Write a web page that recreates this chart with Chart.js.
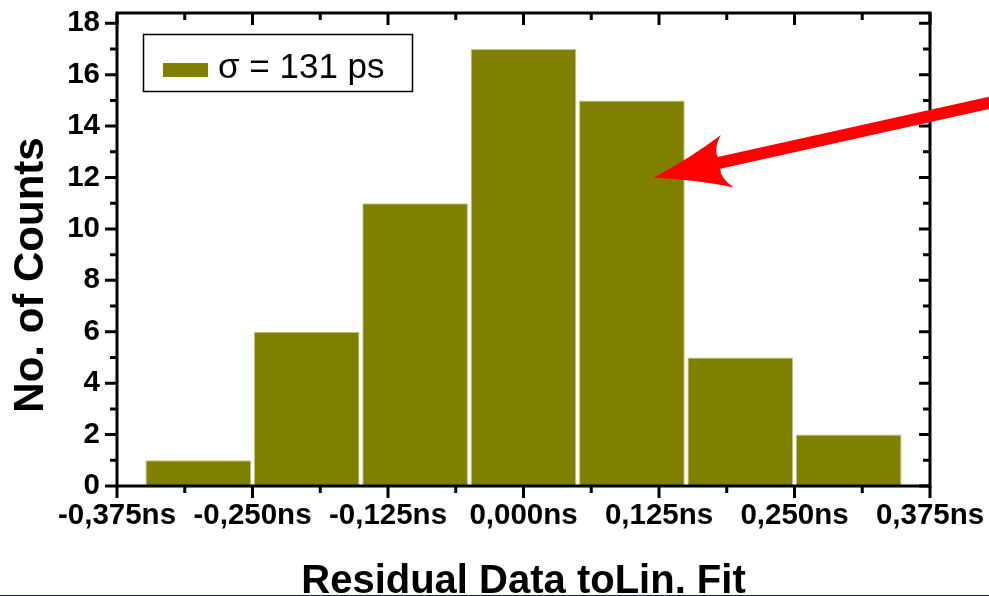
<!DOCTYPE html>
<html>
<head>
<meta charset="utf-8">
<title>Residual histogram</title>
<script src="https://cdn.jsdelivr.net/npm/chart.js@4.4.1/dist/chart.umd.min.js"></script>
<style>
    html, body { margin: 0; padding: 0; background: #ffffff; }
    canvas { display: block; }
</style>
</head>
<body>
<canvas id="residualChart" width="989" height="596"></canvas>
<script>
// histogram of residuals (bin centres in ns)
const binCenters = [-0.3, -0.2, -0.1, 0, 0.1, 0.2, 0.3];
const binCounts = [1, 6, 11, 17, 15, 5, 2];
const seriesLabel = "σ = 131 ps";

const xTickValues = [-0.375, -0.25, -0.125, 0, 0.125, 0.25, 0.375];
const xTickLabels = ["-0,375ns", "-0,250ns", "-0,125ns", "0,000ns", "0,125ns", "0,250ns", "0,375ns"];
const yTickValues = [0, 2, 4, 6, 8, 10, 12, 14, 16, 18];

const xTitle = "Residual Data toLin. Fit";
const yTitle = "No. of Counts";

// red pointer, in data units; the tail runs off past the right edge
const arrowTip = { x: 0.12, y: 12 };
const arrowTail = { x: 0.44, y: 15.0 };

const FONT = "'Liberation Sans', Arial, Helvetica, sans-serif";
const OLIVE = "#808000";

Chart.defaults.font.family = FONT;
Chart.defaults.color = "#000000";

// frame with mirrored ticks, axis titles, legend box and the arrow
const decorations = {

    id: "decorations",

    afterDraw(chart) {

        const ctx = chart.ctx;
        const area = chart.chartArea;
        const x = chart.scales.x;
        const y = chart.scales.y;

        ctx.save();
        ctx.strokeStyle = "#000000";
        ctx.lineCap = "butt";

        // ticks
        ctx.lineWidth = 3;

        const xMinor = [];
        for (let i = 0; i < xTickValues.length - 1; i++) {
            xMinor.push((xTickValues[i] + xTickValues[i + 1]) / 2);
        }

        const yMinor = [];
        for (let i = 0; i < yTickValues.length - 1; i++) {
            yMinor.push((yTickValues[i] + yTickValues[i + 1]) / 2);
        }

        ctx.beginPath();

        xTickValues.forEach(v => {
            const px = x.getPixelForValue(v);
            ctx.moveTo(px, area.bottom);
            ctx.lineTo(px, area.bottom + 12);
            ctx.moveTo(px, area.top);
            ctx.lineTo(px, area.top + 12);
        });

        xMinor.forEach(v => {
            const px = x.getPixelForValue(v);
            ctx.moveTo(px, area.bottom);
            ctx.lineTo(px, area.bottom + 7);
            ctx.moveTo(px, area.top);
            ctx.lineTo(px, area.top + 7);
        });

        yTickValues.forEach(v => {
            const py = y.getPixelForValue(v);
            ctx.moveTo(area.left, py);
            ctx.lineTo(area.left - 12, py);
            ctx.moveTo(area.right, py);
            ctx.lineTo(area.right - 11, py);
        });

        yMinor.forEach(v => {
            const py = y.getPixelForValue(v);
            ctx.moveTo(area.left, py);
            ctx.lineTo(area.left - 7, py);
            ctx.moveTo(area.right, py);
            ctx.lineTo(area.right - 7, py);
        });

        ctx.stroke();

        // frame
        ctx.lineWidth = 3;
        ctx.strokeRect(area.left, area.top, area.right - area.left, area.bottom - area.top);

        // axis titles
        ctx.fillStyle = "#000000";
        ctx.font = "bold 40px " + FONT;
        ctx.textAlign = "center";
        ctx.textBaseline = "alphabetic";
        ctx.fillText(xTitle, (area.left + area.right) / 2, 593);

        ctx.save();
        ctx.translate(43, 275);
        ctx.rotate(-Math.PI / 2);
        ctx.font = "bold 42px " + FONT;
        ctx.fillText(yTitle, 0, 0);
        ctx.restore();

        // legend
        const ds = chart.data.datasets[0];
        ctx.lineWidth = 1.5;
        ctx.strokeRect(143.5, 34.5, 269, 57);
        ctx.fillStyle = ds.backgroundColor;
        ctx.fillRect(163, 63, 45, 14);
        ctx.fillStyle = "#000000";
        ctx.font = "35px " + FONT;
        ctx.textAlign = "left";
        ctx.fillText(ds.label, 218, 77.5);

        drawArrow(ctx, x, y);

        // thin rule along the bottom edge
        ctx.fillStyle = "#1a1a6e";
        ctx.fillRect(0, chart.height - 1, chart.width, 1);

        ctx.restore();

    }

};

function drawArrow(ctx, x, y) {

    const tx = x.getPixelForValue(arrowTip.x);
    const ty = y.getPixelForValue(arrowTip.y);
    const ex = x.getPixelForValue(arrowTail.x);
    const ey = y.getPixelForValue(arrowTail.y);

    const len = Math.hypot(ex - tx, ey - ty);
    const ux = (ex - tx) / len;
    const uy = (ey - ty) / len;
    const nx = -uy;
    const ny = ux;

    // local (along, across) -> canvas
    const p = (a, b) => [tx + ux * a + nx * b, ty + uy * a + ny * b];

    ctx.fillStyle = "#ff0000";
    ctx.beginPath();
    ctx.moveTo(...p(0, 0));
    ctx.quadraticCurveTo(...p(40, -11), ...p(75, -27));
    ctx.quadraticCurveTo(...p(65, -16), ...p(67, -6));
    ctx.lineTo(...p(len, -6));
    ctx.lineTo(...p(len, 6));
    ctx.lineTo(...p(67, 6));
    ctx.quadraticCurveTo(...p(65, 16), ...p(76, 27));
    ctx.quadraticCurveTo(...p(40, 11), ...p(0, 0));
    ctx.closePath();
    ctx.fill();

}

const chart = new Chart(
    document.getElementById("residualChart").getContext("2d"),
    {
        type: "bar",
        data: {
            datasets: [
                {
                    label: seriesLabel,
                    data: binCenters.map((c, i) => ({ x: c, y: binCounts[i] })),
                    backgroundColor: OLIVE,
                    borderColor: "#c4c48c",
                    borderWidth: 1,
                    borderSkipped: "bottom",
                    categoryPercentage: 1,
                    barPercentage: 0.975
                }
            ]
        },
        options: {
            responsive: false,
            animation: false,
            events: [],
            layout: {
                padding: { top: 13, right: 59, left: 0, bottom: 0 }
            },
            plugins: {
                legend: { display: false },
                tooltip: { enabled: false }
            },
            scales: {
                x: {
                    type: "linear",
                    min: -0.375,
                    max: 0.375,
                    offset: false,
                    grid: { display: false, drawTicks: false },
                    border: { display: false },
                    afterBuildTicks: scale => {
                        scale.ticks = xTickValues.map(v => ({ value: v }));
                    },
                    afterFit: scale => {
                        scale.height = 110;
                        scale.paddingLeft = 0;
                        scale.paddingRight = 0;
                    },
                    ticks: {
                        autoSkip: false,
                        maxRotation: 0,
                        padding: 12,
                        font: { size: 29.5, weight: "bold" },
                        color: "#000000",
                        callback: (value, index) => xTickLabels[index]
                    }
                },
                y: {
                    min: 0,
                    max: 18.4,
                    grid: { display: false, drawTicks: false },
                    border: { display: false },
                    afterBuildTicks: scale => {
                        scale.ticks = yTickValues.map(v => ({ value: v }));
                    },
                    afterFit: scale => {
                        scale.width = 117;
                        scale.paddingTop = 0;
                        scale.paddingBottom = 0;
                    },
                    ticks: {
                        padding: 17,
                        font: { size: 29.5, weight: "bold" },
                        color: "#000000"
                    }
                }
            }
        },
        plugins: [decorations]
    }
);
</script>
</body>
</html>
